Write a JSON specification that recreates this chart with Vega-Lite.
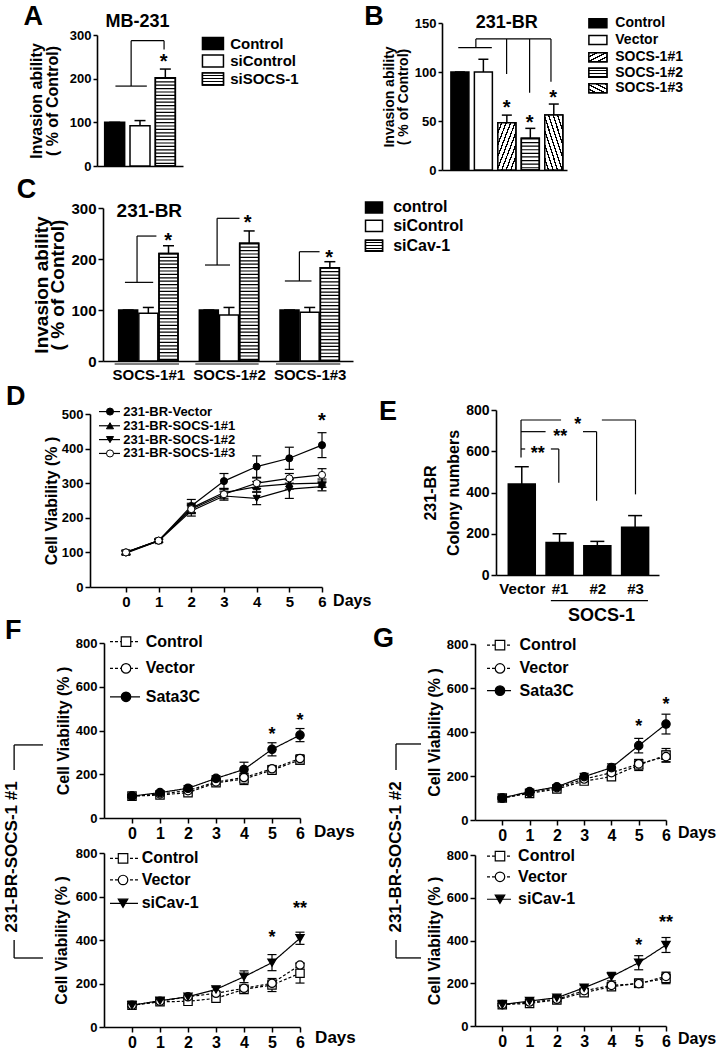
{
"$schema": "https://vega.github.io/schema/vega-lite/v6.json",
"width": 718, "height": 1050,
"autosize": {"type": "none"},
"padding": 0,
"background": "white",
"config": {
 "font": "Liberation Sans",
 "view": {"stroke": null},
 "mark": {"color": "black"},
 "point": {"opacity": 1},
 "tick": {"opacity": 1},
 "text": {"font": "Liberation Sans", "fontWeight": "bold", "color": "black"},
 "axis": {"grid": false, "domainColor": "black", "domainWidth": 1.6, "tickColor": "black", "tickWidth": 1.5, "tickSize": 5,
  "labelFont": "Liberation Sans", "labelFontWeight": "bold", "labelColor": "black", "labelFontSize": 14, "labelPadding": 2,
  "labelFlush": false, "labelOverlap": false,
  "titleFont": "Liberation Sans", "titleFontWeight": "bold", "titleColor": "black", "titleFontSize": 16}
},
"resolve": {"scale": {"x": "independent", "y": "independent", "fill": "independent", "shape": "independent", "strokeDash": "independent"}},
"datasets": {
 "a": [{"g":"Control","pos":1,"v":100,"hi":100},{"g":"siControl","pos":2,"v":92,"hi":104},{"g":"siSOCS-1","pos":3,"v":202,"hi":222}],
 "aleg": [{"label":"Control","ly":280.5},{"label":"siControl","ly":240.4},{"label":"siSOCS-1","ly":199.2}],
 "b": [{"g":"Control","pos":1,"v":100,"hi":100},{"g":"Vector","pos":2,"v":100,"hi":113},{"g":"SOCS-1#1","pos":3,"v":48.3,"hi":56},{"g":"SOCS-1#2","pos":4,"v":32.3,"hi":42.5},{"g":"SOCS-1#3","pos":5,"v":56,"hi":67.3}],
 "bleg": [{"label":"Control","ly":149.7},{"label":"Vector","ly":132.7},{"label":"SOCS-1#1","ly":115},{"label":"SOCS-1#2","ly":99.3},{"label":"SOCS-1#3","ly":83.3}],
 "c": [{"grp":"SOCS-1#1","s":"control","pos":1,"v":100,"hi":100},{"grp":"SOCS-1#1","s":"siControl","pos":2,"v":93.5,"hi":105},{"grp":"SOCS-1#1","s":"siCav-1","pos":3,"v":211,"hi":226},
       {"grp":"SOCS-1#2","s":"control","pos":5,"v":100,"hi":100},{"grp":"SOCS-1#2","s":"siControl","pos":6,"v":90,"hi":105},{"grp":"SOCS-1#2","s":"siCav-1","pos":7,"v":231,"hi":255},
       {"grp":"SOCS-1#3","s":"control","pos":9,"v":100,"hi":100},{"grp":"SOCS-1#3","s":"siControl","pos":10,"v":95.4,"hi":105},{"grp":"SOCS-1#3","s":"siCav-1","pos":11,"v":183,"hi":194.7}],
 "cleg": [{"label":"control","ly":301},{"label":"siControl","ly":265},{"label":"siCav-1","ly":226}],
 "e": [{"g":"Vector","pos":1,"v":441,"hi":525},{"g":"#1","pos":2,"v":157,"hi":200},{"g":"#2","pos":3,"v":142,"hi":163},{"g":"#3","pos":4,"v":231,"hi":288}],
 "d": [
  {"s":"V","d":0,"v":100,"lo":93,"hi":107},{"s":"V","d":1,"v":134,"lo":129,"hi":139},{"s":"V","d":2,"v":234,"lo":215,"hi":253},{"s":"V","d":3,"v":306,"lo":284,"hi":328},{"s":"V","d":4,"v":348,"lo":317,"hi":379},{"s":"V","d":5,"v":372,"lo":340,"hi":404},{"s":"V","d":6,"v":410,"lo":374,"hi":446},
  {"s":"S1","d":0,"v":100,"lo":95,"hi":105},{"s":"S1","d":1,"v":134,"lo":130,"hi":138},{"s":"S1","d":2,"v":228,"lo":214,"hi":242},{"s":"S1","d":3,"v":273,"lo":261,"hi":285},{"s":"S1","d":4,"v":290,"lo":275,"hi":305},{"s":"S1","d":5,"v":298,"lo":283,"hi":313},{"s":"S1","d":6,"v":300,"lo":288,"hi":312},
  {"s":"S2","d":0,"v":98,"lo":93,"hi":103},{"s":"S2","d":1,"v":133,"lo":129,"hi":137},{"s":"S2","d":2,"v":220,"lo":205,"hi":235},{"s":"S2","d":3,"v":263,"lo":251,"hi":275},{"s":"S2","d":4,"v":256,"lo":238,"hi":274},{"s":"S2","d":5,"v":283,"lo":256,"hi":310},{"s":"S2","d":6,"v":290,"lo":278,"hi":302},
  {"s":"S3","d":0,"v":100,"lo":95,"hi":105},{"s":"S3","d":1,"v":134,"lo":130,"hi":138},{"s":"S3","d":2,"v":225,"lo":212,"hi":238},{"s":"S3","d":3,"v":268,"lo":255,"hi":281},{"s":"S3","d":4,"v":300,"lo":285,"hi":315},{"s":"S3","d":5,"v":314,"lo":300,"hi":328},{"s":"S3","d":6,"v":324,"lo":306,"hi":342}],
 "dleg": [{"s":"V","label":"231-BR-Vector","ly":507},{"s":"S1","label":"231-BR-SOCS-1#1","ly":466},{"s":"S2","label":"231-BR-SOCS-1#2","ly":426},{"s":"S3","label":"231-BR-SOCS-1#3","ly":386}],
 "ft": [
  {"s":"Control","d":0,"v":100,"lo":95,"hi":105},{"s":"Control","d":1,"v":105,"lo":100,"hi":110},{"s":"Control","d":2,"v":116,"lo":104,"hi":128},{"s":"Control","d":3,"v":161,"lo":151,"hi":171},{"s":"Control","d":4,"v":178,"lo":153,"hi":203},{"s":"Control","d":5,"v":219,"lo":204,"hi":234},{"s":"Control","d":6,"v":265,"lo":245,"hi":285},
  {"s":"Vector","d":0,"v":100,"lo":95,"hi":105},{"s":"Vector","d":1,"v":110,"lo":104,"hi":116},{"s":"Vector","d":2,"v":125,"lo":113,"hi":137},{"s":"Vector","d":3,"v":165,"lo":155,"hi":175},{"s":"Vector","d":4,"v":185,"lo":165,"hi":205},{"s":"Vector","d":5,"v":225,"lo":210,"hi":240},{"s":"Vector","d":6,"v":272,"lo":255,"hi":289},
  {"s":"Sata3C","d":0,"v":100,"lo":95,"hi":105},{"s":"Sata3C","d":1,"v":116,"lo":110,"hi":122},{"s":"Sata3C","d":2,"v":136,"lo":124,"hi":148},{"s":"Sata3C","d":3,"v":181,"lo":169,"hi":193},{"s":"Sata3C","d":4,"v":222,"lo":189,"hi":255},{"s":"Sata3C","d":5,"v":314,"lo":284,"hi":344},{"s":"Sata3C","d":6,"v":379,"lo":349,"hi":409}],
 "ftl": [{"s":"Control","ly":806},{"s":"Vector","ly":684},{"s":"Sata3C","ly":554}],
 "fb": [
  {"s":"Control","d":0,"v":100,"lo":95,"hi":105},{"s":"Control","d":1,"v":116,"lo":110,"hi":122},{"s":"Control","d":2,"v":118,"lo":110,"hi":126},{"s":"Control","d":3,"v":132,"lo":122,"hi":142},{"s":"Control","d":4,"v":173,"lo":163,"hi":183},{"s":"Control","d":5,"v":193,"lo":163,"hi":223},{"s":"Control","d":6,"v":247,"lo":202,"hi":292},
  {"s":"Vector","d":0,"v":100,"lo":95,"hi":105},{"s":"Vector","d":1,"v":118,"lo":112,"hi":124},{"s":"Vector","d":2,"v":139,"lo":131,"hi":147},{"s":"Vector","d":3,"v":155,"lo":145,"hi":165},{"s":"Vector","d":4,"v":178,"lo":168,"hi":188},{"s":"Vector","d":5,"v":201,"lo":186,"hi":216},{"s":"Vector","d":6,"v":285,"lo":275,"hi":295},
  {"s":"siCav-1","d":0,"v":100,"lo":92,"hi":108},{"s":"siCav-1","d":1,"v":121,"lo":114,"hi":128},{"s":"siCav-1","d":2,"v":139,"lo":131,"hi":147},{"s":"siCav-1","d":3,"v":173,"lo":163,"hi":183},{"s":"siCav-1","d":4,"v":231,"lo":204,"hi":258},{"s":"siCav-1","d":5,"v":296,"lo":259,"hi":333},{"s":"siCav-1","d":6,"v":408,"lo":380,"hi":436}],
 "fbl": [{"s":"Control","ly":775.6},{"s":"Vector","ly":676},{"s":"siCav-1","ly":568.7}],
 "gt": [
  {"s":"Control","d":0,"v":100,"lo":95,"hi":105},{"s":"Control","d":1,"v":121,"lo":113,"hi":129},{"s":"Control","d":2,"v":141,"lo":133,"hi":149},{"s":"Control","d":3,"v":177,"lo":165,"hi":189},{"s":"Control","d":4,"v":197,"lo":187,"hi":207},{"s":"Control","d":5,"v":250,"lo":225,"hi":275},{"s":"Control","d":6,"v":295,"lo":265,"hi":325},
  {"s":"Vector","d":0,"v":100,"lo":95,"hi":105},{"s":"Vector","d":1,"v":125,"lo":118,"hi":132},{"s":"Vector","d":2,"v":147,"lo":139,"hi":155},{"s":"Vector","d":3,"v":186,"lo":174,"hi":198},{"s":"Vector","d":4,"v":215,"lo":203,"hi":227},{"s":"Vector","d":5,"v":255,"lo":235,"hi":275},{"s":"Vector","d":6,"v":288,"lo":263,"hi":313},
  {"s":"Sata3C","d":0,"v":100,"lo":95,"hi":105},{"s":"Sata3C","d":1,"v":129,"lo":121,"hi":137},{"s":"Sata3C","d":2,"v":151,"lo":143,"hi":159},{"s":"Sata3C","d":3,"v":197,"lo":182,"hi":212},{"s":"Sata3C","d":4,"v":238,"lo":221,"hi":255},{"s":"Sata3C","d":5,"v":338,"lo":305,"hi":371},{"s":"Sata3C","d":6,"v":436,"lo":391,"hi":481}],
 "gtl": [{"s":"Control","ly":795},{"s":"Vector","ly":689},{"s":"Sata3C","ly":588}],
 "gb": [
  {"s":"Control","d":0,"v":100,"lo":95,"hi":105},{"s":"Control","d":1,"v":106,"lo":99,"hi":113},{"s":"Control","d":2,"v":122,"lo":114,"hi":130},{"s":"Control","d":3,"v":156,"lo":146,"hi":166},{"s":"Control","d":4,"v":184,"lo":170,"hi":198},{"s":"Control","d":5,"v":200,"lo":180,"hi":220},{"s":"Control","d":6,"v":223,"lo":198,"hi":248},
  {"s":"Vector","d":0,"v":100,"lo":95,"hi":105},{"s":"Vector","d":1,"v":112,"lo":106,"hi":118},{"s":"Vector","d":2,"v":125,"lo":117,"hi":133},{"s":"Vector","d":3,"v":165,"lo":155,"hi":175},{"s":"Vector","d":4,"v":190,"lo":180,"hi":200},{"s":"Vector","d":5,"v":198,"lo":188,"hi":208},{"s":"Vector","d":6,"v":232,"lo":212,"hi":252},
  {"s":"siCav-1","d":0,"v":100,"lo":93,"hi":107},{"s":"siCav-1","d":1,"v":117,"lo":110,"hi":124},{"s":"siCav-1","d":2,"v":132,"lo":124,"hi":140},{"s":"siCav-1","d":3,"v":179,"lo":169,"hi":189},{"s":"siCav-1","d":4,"v":231,"lo":211,"hi":251},{"s":"siCav-1","d":5,"v":296,"lo":263,"hi":329},{"s":"siCav-1","d":6,"v":379,"lo":344,"hi":414}],
 "gbl": [{"s":"Control","ly":795},{"s":"Vector","ly":698},{"s":"siCav-1","ly":593}]
},
"layer": [
{"layer": [
 {"data": {"name": "a"}, "mark": {"type": "bar", "width": 20, "stroke": "black", "strokeWidth": 1.5},
  "encoding": {
   "x": {"field": "pos", "type": "quantitative", "scale": {"domain": [0.5, 3.5], "range": [97, 183], "zero": false, "nice": false}, "axis": {"orient": "bottom", "offset": -884, "labels": false, "ticks": false, "tickSize": 0, "title": null}},
   "y": {"field": "v", "type": "quantitative", "scale": {"domain": [0, 300], "range": [166, 35], "zero": false, "nice": false}, "axis": {"orient": "left", "offset": -97, "values": [0, 100, 200, 300], "format": "d", "labelFontSize": 13, "tickSize": 4, "title": ["Invasion ability", "( % of Control)"], "titleFontSize": 16, "titleLineHeight": 16, "titlePadding": 9}},
   "fill": {"condition": {"test": "datum.g === 'Control'", "value": "black"}, "value": "white"}}},
 {"data": {"name": "a"}, "transform": [{"filter": "datum.g === 'siSOCS-1'"}], "mark": {"type": "rule", "strokeWidth": 20, "strokeDash": [1.2, 2.2]},
  "encoding": {"x": {"field": "pos", "type": "quantitative"}, "y": {"field": "v", "type": "quantitative"}, "y2": {"datum": 0}}},
 {"data": {"name": "a"}, "transform": [{"filter": "datum.g === 'siSOCS-1'"}], "mark": {"type": "bar", "width": 20, "fillOpacity": 0, "stroke": "black", "strokeWidth": 1.5},
  "encoding": {"x": {"field": "pos", "type": "quantitative"}, "y": {"field": "v", "type": "quantitative"}}},
 {"data": {"name": "a"}, "mark": {"type": "rule", "strokeWidth": 1.5},
  "encoding": {"x": {"field": "pos", "type": "quantitative"}, "y": {"field": "v", "type": "quantitative"}, "y2": {"field": "hi"}}},
 {"data": {"name": "a"}, "mark": {"type": "tick", "orient": "horizontal", "size": 11, "thickness": 1.5},
  "encoding": {"x": {"field": "pos", "type": "quantitative"}, "y": {"field": "hi", "type": "quantitative"}}},
 {"data": {"values": [{"x":1.03,"x2":2.27,"y":183,"y2":183},{"x":1.65,"x2":1.65,"y":183,"y2":287},{"x":1.65,"x2":2.95,"y":287,"y2":287},{"x":2.95,"x2":2.95,"y":287,"y2":267}]},
  "mark": {"type": "rule", "strokeWidth": 1.2},
  "encoding": {"x": {"field": "x", "type": "quantitative"}, "x2": {"field": "x2"}, "y": {"field": "y", "type": "quantitative"}, "y2": {"field": "y2"}}},
 {"data": {"values": [{"t":"*","x":2.93,"y":250}]}, "mark": {"type": "text", "fontSize": 20, "dy": 5},
  "encoding": {"x": {"field": "x", "type": "quantitative"}, "y": {"field": "y", "type": "quantitative"}, "text": {"field": "t"}}},
 {"data": {"values": [{"t":"MB-231","x":1.9,"y":318}]}, "mark": {"type": "text", "fontSize": 18, "baseline": "alphabetic"},
  "encoding": {"x": {"field": "x", "type": "quantitative"}, "y": {"field": "y", "type": "quantitative"}, "text": {"field": "t"}}},
 {"data": {"values": [{"t":"A","x":-2.6,"y":323}]}, "mark": {"type": "text", "fontSize": 27, "align": "left", "baseline": "alphabetic"},
  "encoding": {"x": {"field": "x", "type": "quantitative"}, "y": {"field": "y", "type": "quantitative"}, "text": {"field": "t"}}},
 {"data": {"name": "aleg"}, "mark": {"type": "point", "shape": "M-1,-0.57H1V0.57H-1Z", "size": 441, "filled": true, "stroke": "black", "strokeWidth": 1.5},
  "encoding": {"x": {"datum": 4.88}, "y": {"field": "ly", "type": "quantitative"}, "fill": {"condition": {"test": "datum.label === 'Control'", "value": "black"}, "value": "white"}}},
 {"data": {"name": "aleg"}, "transform": [{"filter": "datum.label === 'siSOCS-1'"}],
  "mark": {"type": "point", "shape": "M-1,-0.57H1V0.57H-1Z", "size": 441, "filled": true, "stroke": "black", "strokeWidth": 1.5,
   "fill": {"gradient": "linear", "x1": 0, "y1": 0, "x2": 0, "y2": 1, "stops": [{"offset":0,"color":"white"},{"offset":0.17,"color":"white"},{"offset":0.17,"color":"black"},{"offset":0.25,"color":"black"},{"offset":0.25,"color":"white"},{"offset":0.42,"color":"white"},{"offset":0.42,"color":"black"},{"offset":0.5,"color":"black"},{"offset":0.5,"color":"white"},{"offset":0.67,"color":"white"},{"offset":0.67,"color":"black"},{"offset":0.75,"color":"black"},{"offset":0.75,"color":"white"},{"offset":0.92,"color":"white"},{"offset":0.92,"color":"black"},{"offset":1,"color":"black"}]}},
  "encoding": {"x": {"datum": 4.88}, "y": {"field": "ly", "type": "quantitative"}}},
 {"data": {"name": "aleg"}, "mark": {"type": "text", "align": "left", "baseline": "middle", "fontSize": 15},
  "encoding": {"x": {"datum": 5.56}, "y": {"field": "ly", "type": "quantitative"}, "text": {"field": "label"}}}
]},
{"layer": [
 {"data": {"name": "b"}, "mark": {"type": "bar", "width": 18, "stroke": "black", "strokeWidth": 1.5},
  "encoding": {
   "x": {"field": "pos", "type": "quantitative", "scale": {"domain": [0.45, 5.35], "range": [442, 567], "zero": false, "nice": false}, "axis": {"orient": "bottom", "offset": -880, "labels": false, "ticks": false, "tickSize": 0, "title": null}},
   "y": {"field": "v", "type": "quantitative", "scale": {"domain": [0, 150], "range": [170, 23], "zero": false, "nice": false}, "axis": {"orient": "left", "offset": -442, "values": [0, 50, 100, 150], "format": "d", "labelFontSize": 13, "tickSize": 4, "title": ["Invasion ability", "( % of Control)"], "titleFontSize": 14, "titleLineHeight": 14, "titlePadding": 4}},
   "fill": {"condition": {"test": "datum.g === 'Control'", "value": "black"}, "value": "white"}}},
 {"data": {"name": "b"}, "transform": [{"filter": "datum.g === 'SOCS-1#1'"}],
  "mark": {"type": "bar", "width": 18, "stroke": "black", "strokeWidth": 1.5,
   "fill": {"gradient": "linear", "x1": 0, "y1": 0, "x2": 1, "y2": 1, "stops": [{"offset":0,"color":"white"},{"offset":0.0875,"color":"white"},{"offset":0.0875,"color":"black"},{"offset":0.125,"color":"black"},{"offset":0.125,"color":"white"},{"offset":0.2125,"color":"white"},{"offset":0.2125,"color":"black"},{"offset":0.25,"color":"black"},{"offset":0.25,"color":"white"},{"offset":0.3375,"color":"white"},{"offset":0.3375,"color":"black"},{"offset":0.375,"color":"black"},{"offset":0.375,"color":"white"},{"offset":0.4625,"color":"white"},{"offset":0.4625,"color":"black"},{"offset":0.5,"color":"black"},{"offset":0.5,"color":"white"},{"offset":0.5875,"color":"white"},{"offset":0.5875,"color":"black"},{"offset":0.625,"color":"black"},{"offset":0.625,"color":"white"},{"offset":0.7125,"color":"white"},{"offset":0.7125,"color":"black"},{"offset":0.75,"color":"black"},{"offset":0.75,"color":"white"},{"offset":0.8375,"color":"white"},{"offset":0.8375,"color":"black"},{"offset":0.875,"color":"black"},{"offset":0.875,"color":"white"},{"offset":0.9625,"color":"white"},{"offset":0.9625,"color":"black"},{"offset":1,"color":"black"}]}},
  "encoding": {"x": {"field": "pos", "type": "quantitative"}, "y": {"field": "v", "type": "quantitative"}}},
 {"data": {"name": "b"}, "transform": [{"filter": "datum.g === 'SOCS-1#3'"}],
  "mark": {"type": "bar", "width": 18, "stroke": "black", "strokeWidth": 1.5,
   "fill": {"gradient": "linear", "x1": 0, "y1": 1, "x2": 1, "y2": 0, "stops": [{"offset":0,"color":"white"},{"offset":0.0875,"color":"white"},{"offset":0.0875,"color":"black"},{"offset":0.125,"color":"black"},{"offset":0.125,"color":"white"},{"offset":0.2125,"color":"white"},{"offset":0.2125,"color":"black"},{"offset":0.25,"color":"black"},{"offset":0.25,"color":"white"},{"offset":0.3375,"color":"white"},{"offset":0.3375,"color":"black"},{"offset":0.375,"color":"black"},{"offset":0.375,"color":"white"},{"offset":0.4625,"color":"white"},{"offset":0.4625,"color":"black"},{"offset":0.5,"color":"black"},{"offset":0.5,"color":"white"},{"offset":0.5875,"color":"white"},{"offset":0.5875,"color":"black"},{"offset":0.625,"color":"black"},{"offset":0.625,"color":"white"},{"offset":0.7125,"color":"white"},{"offset":0.7125,"color":"black"},{"offset":0.75,"color":"black"},{"offset":0.75,"color":"white"},{"offset":0.8375,"color":"white"},{"offset":0.8375,"color":"black"},{"offset":0.875,"color":"black"},{"offset":0.875,"color":"white"},{"offset":0.9625,"color":"white"},{"offset":0.9625,"color":"black"},{"offset":1,"color":"black"}]}},
  "encoding": {"x": {"field": "pos", "type": "quantitative"}, "y": {"field": "v", "type": "quantitative"}}},
 {"data": {"name": "b"}, "transform": [{"filter": "datum.g === 'SOCS-1#2'"}], "mark": {"type": "rule", "strokeWidth": 18, "strokeDash": [1.2, 2.4]},
  "encoding": {"x": {"field": "pos", "type": "quantitative"}, "y": {"field": "v", "type": "quantitative"}, "y2": {"datum": 0}}},
 {"data": {"name": "b"}, "transform": [{"filter": "datum.g === 'SOCS-1#2'"}], "mark": {"type": "bar", "width": 18, "fillOpacity": 0, "stroke": "black", "strokeWidth": 1.5},
  "encoding": {"x": {"field": "pos", "type": "quantitative"}, "y": {"field": "v", "type": "quantitative"}}},
 {"data": {"name": "b"}, "mark": {"type": "rule", "strokeWidth": 1.5},
  "encoding": {"x": {"field": "pos", "type": "quantitative"}, "y": {"field": "v", "type": "quantitative"}, "y2": {"field": "hi"}}},
 {"data": {"name": "b"}, "mark": {"type": "tick", "orient": "horizontal", "size": 10, "thickness": 1.5},
  "encoding": {"x": {"field": "pos", "type": "quantitative"}, "y": {"field": "hi", "type": "quantitative"}}},
 {"data": {"values": [{"x":0.93,"x2":2.36,"y":124.8,"y2":124.8},{"x":1.68,"x2":1.68,"y":124.8,"y2":133.7},{"x":1.68,"x2":4.88,"y":133.7,"y2":133.7},{"x":2.99,"x2":2.99,"y":133.7,"y2":98},{"x":3.97,"x2":3.97,"y":133.7,"y2":78.9},{"x":4.88,"x2":4.88,"y":133.7,"y2":90.1}]},
  "mark": {"type": "rule", "strokeWidth": 1.2},
  "encoding": {"x": {"field": "x", "type": "quantitative"}, "x2": {"field": "x2"}, "y": {"field": "y", "type": "quantitative"}, "y2": {"field": "y2"}}},
 {"data": {"values": [{"t":"*","x":2.99,"y":68},{"t":"*","x":3.97,"y":52.7},{"t":"*","x":4.97,"y":78.3}]}, "mark": {"type": "text", "fontSize": 20, "dy": 5},
  "encoding": {"x": {"field": "x", "type": "quantitative"}, "y": {"field": "y", "type": "quantitative"}, "text": {"field": "t"}}},
 {"data": {"values": [{"t":"231-BR","x":3.0,"y":145}]}, "mark": {"type": "text", "fontSize": 18, "baseline": "alphabetic"},
  "encoding": {"x": {"field": "x", "type": "quantitative"}, "y": {"field": "y", "type": "quantitative"}, "text": {"field": "t"}}},
 {"data": {"values": [{"t":"B","x":-3.08,"y":148}]}, "mark": {"type": "text", "fontSize": 27, "align": "left", "baseline": "alphabetic"},
  "encoding": {"x": {"field": "x", "type": "quantitative"}, "y": {"field": "y", "type": "quantitative"}, "text": {"field": "t"}}},
 {"data": {"name": "bleg"}, "mark": {"type": "point", "shape": "M-1,-0.5H1V0.5H-1Z", "size": 324, "filled": true, "stroke": "black", "strokeWidth": 1.5},
  "encoding": {"x": {"datum": 6.88}, "y": {"field": "ly", "type": "quantitative"}, "fill": {"condition": {"test": "datum.label === 'Control'", "value": "black"}, "value": "white"}}},
 {"data": {"name": "bleg"}, "transform": [{"filter": "datum.label === 'SOCS-1#1'"}],
  "mark": {"type": "point", "shape": "M-1,-0.5H1V0.5H-1Z", "size": 324, "filled": true, "stroke": "black", "strokeWidth": 1.5,
   "fill": {"gradient": "linear", "x1": 0, "y1": 0, "x2": 1, "y2": 1, "stops": [{"offset":0,"color":"white"},{"offset":0.175,"color":"white"},{"offset":0.175,"color":"black"},{"offset":0.25,"color":"black"},{"offset":0.25,"color":"white"},{"offset":0.425,"color":"white"},{"offset":0.425,"color":"black"},{"offset":0.5,"color":"black"},{"offset":0.5,"color":"white"},{"offset":0.675,"color":"white"},{"offset":0.675,"color":"black"},{"offset":0.75,"color":"black"},{"offset":0.75,"color":"white"},{"offset":0.925,"color":"white"},{"offset":0.925,"color":"black"},{"offset":1,"color":"black"}]}},
  "encoding": {"x": {"datum": 6.88}, "y": {"field": "ly", "type": "quantitative"}}},
 {"data": {"name": "bleg"}, "transform": [{"filter": "datum.label === 'SOCS-1#2'"}],
  "mark": {"type": "point", "shape": "M-1,-0.5H1V0.5H-1Z", "size": 324, "filled": true, "stroke": "black", "strokeWidth": 1.5,
   "fill": {"gradient": "linear", "x1": 0, "y1": 0, "x2": 0, "y2": 1, "stops": [{"offset":0,"color":"white"},{"offset":0.22,"color":"white"},{"offset":0.22,"color":"black"},{"offset":0.33,"color":"black"},{"offset":0.33,"color":"white"},{"offset":0.55,"color":"white"},{"offset":0.55,"color":"black"},{"offset":0.66,"color":"black"},{"offset":0.66,"color":"white"},{"offset":0.89,"color":"white"},{"offset":0.89,"color":"black"},{"offset":1,"color":"black"}]}},
  "encoding": {"x": {"datum": 6.88}, "y": {"field": "ly", "type": "quantitative"}}},
 {"data": {"name": "bleg"}, "transform": [{"filter": "datum.label === 'SOCS-1#3'"}],
  "mark": {"type": "point", "shape": "M-1,-0.5H1V0.5H-1Z", "size": 324, "filled": true, "stroke": "black", "strokeWidth": 1.5,
   "fill": {"gradient": "linear", "x1": 0, "y1": 1, "x2": 1, "y2": 0, "stops": [{"offset":0,"color":"white"},{"offset":0.175,"color":"white"},{"offset":0.175,"color":"black"},{"offset":0.25,"color":"black"},{"offset":0.25,"color":"white"},{"offset":0.425,"color":"white"},{"offset":0.425,"color":"black"},{"offset":0.5,"color":"black"},{"offset":0.5,"color":"white"},{"offset":0.675,"color":"white"},{"offset":0.675,"color":"black"},{"offset":0.75,"color":"black"},{"offset":0.75,"color":"white"},{"offset":0.925,"color":"white"},{"offset":0.925,"color":"black"},{"offset":1,"color":"black"}]}},
  "encoding": {"x": {"datum": 6.88}, "y": {"field": "ly", "type": "quantitative"}}},
 {"data": {"name": "bleg"}, "mark": {"type": "text", "align": "left", "baseline": "middle", "fontSize": 14},
  "encoding": {"x": {"datum": 7.62}, "y": {"field": "ly", "type": "quantitative"}, "text": {"field": "label"}}}
]},
{"layer": [
 {"data": {"name": "c"}, "mark": {"type": "bar", "width": 19, "stroke": "black", "strokeWidth": 1.5},
  "encoding": {
   "x": {"field": "pos", "type": "quantitative", "scale": {"domain": [0, 11.9], "range": [103, 353], "zero": false, "nice": false}, "axis": {"orient": "bottom", "offset": -689, "values": [2, 6, 10], "labelExpr": "'SOCS-1#' + ((datum.value + 2) / 4)", "ticks": false, "tickSize": 0, "labelPadding": 6, "labelFontSize": 15, "title": null}},
   "y": {"field": "v", "type": "quantitative", "scale": {"domain": [0, 300], "range": [361, 208], "zero": false, "nice": false}, "axis": {"orient": "left", "offset": -103, "values": [0, 100, 200, 300], "format": "d", "labelFontSize": 15, "title": ["Invasion ability", "( % of Control)"], "titleFontSize": 19, "titleLineHeight": 16, "titlePadding": 3}},
   "fill": {"condition": {"test": "datum.s === 'control'", "value": "black"}, "value": "white"}}},
 {"data": {"name": "c"}, "transform": [{"filter": "datum.s === 'siCav-1'"}], "mark": {"type": "rule", "strokeWidth": 19, "strokeDash": [1.2, 2.2]},
  "encoding": {"x": {"field": "pos", "type": "quantitative"}, "y": {"field": "v", "type": "quantitative"}, "y2": {"datum": 0}}},
 {"data": {"name": "c"}, "transform": [{"filter": "datum.s === 'siCav-1'"}], "mark": {"type": "bar", "width": 19, "fillOpacity": 0, "stroke": "black", "strokeWidth": 1.5},
  "encoding": {"x": {"field": "pos", "type": "quantitative"}, "y": {"field": "v", "type": "quantitative"}}},
 {"data": {"name": "c"}, "mark": {"type": "rule", "strokeWidth": 1.5},
  "encoding": {"x": {"field": "pos", "type": "quantitative"}, "y": {"field": "v", "type": "quantitative"}, "y2": {"field": "hi"}}},
 {"data": {"name": "c"}, "mark": {"type": "tick", "orient": "horizontal", "size": 11, "thickness": 1.5},
  "encoding": {"x": {"field": "pos", "type": "quantitative"}, "y": {"field": "hi", "type": "quantitative"}}},
 {"data": {"values": [{"x":0.84,"x2":2.24,"y":154.2,"y2":154.2},{"x":1.44,"x2":1.44,"y":154.2,"y2":245},{"x":1.44,"x2":2.4,"y":245,"y2":245},
   {"x":4.81,"x2":6.05,"y":188.2,"y2":188.2},{"x":5.41,"x2":5.41,"y":188.2,"y2":279.8},{"x":5.41,"x2":6.52,"y":279.8,"y2":279.8},
   {"x":8.77,"x2":10.09,"y":156.9,"y2":156.9},{"x":9.49,"x2":9.49,"y":156.9,"y2":214.3},{"x":9.49,"x2":10.49,"y":214.3,"y2":214.3},
   {"x":0.33,"x2":3.52,"y":-5.9,"y2":-5.9},{"x":4.33,"x2":7.47,"y":-5.9,"y2":-5.9},{"x":8.33,"x2":11.52,"y":-5.9,"y2":-5.9}]},
  "mark": {"type": "rule", "strokeWidth": 1.2},
  "encoding": {"x": {"field": "x", "type": "quantitative"}, "x2": {"field": "x2"}, "y": {"field": "y", "type": "quantitative"}, "y2": {"field": "y2"}}},
 {"data": {"values": [{"t":"*","x":2.98,"y":245},{"t":"*","x":6.92,"y":280},{"t":"*","x":10.96,"y":211}]}, "mark": {"type": "text", "fontSize": 20, "dy": 5},
  "encoding": {"x": {"field": "x", "type": "quantitative"}, "y": {"field": "y", "type": "quantitative"}, "text": {"field": "t"}}},
 {"data": {"values": [{"t":"231-BR","x":2.05,"y":282}]}, "mark": {"type": "text", "fontSize": 19, "baseline": "alphabetic"},
  "encoding": {"x": {"field": "x", "type": "quantitative"}, "y": {"field": "y", "type": "quantitative"}, "text": {"field": "t"}}},
 {"data": {"values": [{"t":"C","x":-4.52,"y":320}]}, "mark": {"type": "text", "fontSize": 27, "align": "left", "baseline": "alphabetic"},
  "encoding": {"x": {"field": "x", "type": "quantitative"}, "y": {"field": "y", "type": "quantitative"}, "text": {"field": "t"}}},
 {"data": {"name": "cleg"}, "mark": {"type": "point", "shape": "M-1,-0.65H1V0.65H-1Z", "size": 289, "filled": true, "stroke": "black", "strokeWidth": 1.5},
  "encoding": {"x": {"datum": 13.19}, "y": {"field": "ly", "type": "quantitative"}, "fill": {"condition": {"test": "datum.label === 'control'", "value": "black"}, "value": "white"}}},
 {"data": {"name": "cleg"}, "transform": [{"filter": "datum.label === 'siCav-1'"}],
  "mark": {"type": "point", "shape": "M-1,-0.65H1V0.65H-1Z", "size": 289, "filled": true, "stroke": "black", "strokeWidth": 1.5,
   "fill": {"gradient": "linear", "x1": 0, "y1": 0, "x2": 0, "y2": 1, "stops": [{"offset":0,"color":"white"},{"offset":0.17,"color":"white"},{"offset":0.17,"color":"black"},{"offset":0.25,"color":"black"},{"offset":0.25,"color":"white"},{"offset":0.42,"color":"white"},{"offset":0.42,"color":"black"},{"offset":0.5,"color":"black"},{"offset":0.5,"color":"white"},{"offset":0.67,"color":"white"},{"offset":0.67,"color":"black"},{"offset":0.75,"color":"black"},{"offset":0.75,"color":"white"},{"offset":0.92,"color":"white"},{"offset":0.92,"color":"black"},{"offset":1,"color":"black"}]}},
  "encoding": {"x": {"datum": 13.19}, "y": {"field": "ly", "type": "quantitative"}}},
 {"data": {"name": "cleg"}, "mark": {"type": "text", "align": "left", "baseline": "middle", "fontSize": 16},
  "encoding": {"x": {"datum": 14.14}, "y": {"field": "ly", "type": "quantitative"}, "text": {"field": "label"}}}
]},
{"layer": [
 {"data": {"name": "d"}, "mark": {"type": "line", "strokeWidth": 1.2},
  "encoding": {
   "x": {"field": "d", "type": "quantitative", "scale": {"domain": [-1.1, 6], "range": [90, 322], "zero": false, "nice": false}, "axis": {"orient": "bottom", "offset": -463, "values": [0, 1, 2, 3, 4, 5, 6], "format": "d", "labelFontSize": 15, "title": null}},
   "y": {"field": "v", "type": "quantitative", "scale": {"domain": [0, 500], "range": [587, 414], "zero": false, "nice": false}, "axis": {"orient": "left", "offset": -90, "values": [0, 100, 200, 300, 400, 500], "format": "d", "labelFontSize": 13, "title": "Cell Viability (% )", "titleFontSize": 16, "titlePadding": 2}},
   "detail": {"field": "s"}}},
 {"data": {"name": "d"}, "mark": {"type": "rule", "strokeWidth": 1.2},
  "encoding": {"x": {"field": "d", "type": "quantitative"}, "y": {"field": "lo", "type": "quantitative"}, "y2": {"field": "hi"}}},
 {"data": {"name": "d"}, "mark": {"type": "tick", "orient": "horizontal", "size": 9, "thickness": 1.2},
  "encoding": {"x": {"field": "d", "type": "quantitative"}, "y": {"field": "lo", "type": "quantitative"}}},
 {"data": {"name": "d"}, "mark": {"type": "tick", "orient": "horizontal", "size": 9, "thickness": 1.2},
  "encoding": {"x": {"field": "d", "type": "quantitative"}, "y": {"field": "hi", "type": "quantitative"}}},
 {"data": {"name": "d"}, "mark": {"type": "point", "size": 50, "filled": true, "stroke": "black", "strokeWidth": 1},
  "encoding": {"x": {"field": "d", "type": "quantitative"}, "y": {"field": "v", "type": "quantitative"},
   "shape": {"field": "s", "type": "nominal", "scale": {"domain": ["V", "S1", "S2", "S3"], "range": ["circle", "triangle-up", "triangle-down", "circle"]}, "legend": null},
   "fill": {"field": "s", "type": "nominal", "scale": {"domain": ["V", "S1", "S2", "S3"], "range": ["black", "black", "black", "white"]}, "legend": null}}},
 {"data": {"name": "dleg"}, "mark": {"type": "rule", "strokeWidth": 1.2},
  "encoding": {"x": {"datum": -0.825}, "x2": {"datum": -0.182}, "y": {"field": "ly", "type": "quantitative"}}},
 {"data": {"name": "dleg"}, "mark": {"type": "point", "size": 50, "filled": true, "stroke": "black", "strokeWidth": 1},
  "encoding": {"x": {"datum": -0.488}, "y": {"field": "ly", "type": "quantitative"}, "shape": {"field": "s", "type": "nominal", "legend": null}, "fill": {"field": "s", "type": "nominal", "legend": null}}},
 {"data": {"name": "dleg"}, "mark": {"type": "text", "align": "left", "baseline": "middle", "fontSize": 13},
  "encoding": {"x": {"datum": -0.081}, "y": {"field": "ly", "type": "quantitative"}, "text": {"field": "label"}}},
 {"data": {"values": [{"t":"*","x":6,"y":494}]}, "mark": {"type": "text", "fontSize": 20, "dy": 5},
  "encoding": {"x": {"field": "x", "type": "quantitative"}, "y": {"field": "y", "type": "quantitative"}, "text": {"field": "t"}}},
 {"data": {"values": [{"t":"Days","x":6.34,"y":-40}]}, "mark": {"type": "text", "fontSize": 16, "align": "left", "baseline": "middle"},
  "encoding": {"x": {"field": "x", "type": "quantitative"}, "y": {"field": "y", "type": "quantitative"}, "text": {"field": "t"}}},
 {"data": {"values": [{"t":"D","x":-3.67,"y":526}]}, "mark": {"type": "text", "fontSize": 27, "align": "left", "baseline": "alphabetic"},
  "encoding": {"x": {"field": "x", "type": "quantitative"}, "y": {"field": "y", "type": "quantitative"}, "text": {"field": "t"}}}
]},
{"layer": [
 {"data": {"name": "e"}, "mark": {"type": "bar", "width": 27, "stroke": "black", "strokeWidth": 1.5, "fill": "black"},
  "encoding": {
   "x": {"field": "pos", "type": "quantitative", "scale": {"domain": [0.45, 4.5], "range": [496, 659], "zero": false, "nice": false}, "axis": {"orient": "bottom", "offset": -475, "values": [1, 2, 3, 4], "labelExpr": "datum.value == 1 ? 'Vector' : '#' + (datum.value - 1)", "ticks": false, "tickSize": 0, "labelPadding": 6, "labelFontSize": 15, "title": null}},
   "y": {"field": "v", "type": "quantitative", "scale": {"domain": [0, 800], "range": [575, 410], "zero": false, "nice": false}, "axis": {"orient": "left", "offset": -496, "values": [0, 200, 400, 600, 800], "format": "d", "labelFontSize": 14, "title": ["231-BR", "Colony numbers"], "titleFontSize": 16, "titleLineHeight": 23, "titlePadding": 4}}}},
 {"data": {"name": "e"}, "mark": {"type": "rule", "strokeWidth": 1.5},
  "encoding": {"x": {"field": "pos", "type": "quantitative"}, "y": {"field": "v", "type": "quantitative"}, "y2": {"field": "hi"}}},
 {"data": {"name": "e"}, "mark": {"type": "tick", "orient": "horizontal", "size": 14, "thickness": 1.5},
  "encoding": {"x": {"field": "pos", "type": "quantitative"}, "y": {"field": "hi", "type": "quantitative"}}},
 {"data": {"values": [{"x":0.98,"x2":0.98,"y":570,"y2":751.5},
   {"x":0.98,"x2":2.04,"y":751.5,"y2":751.5},{"x":3.12,"x2":4.01,"y":751.5,"y2":751.5},{"x":4.01,"x2":4.01,"y":751.5,"y2":391},
   {"x":0.98,"x2":1.63,"y":695,"y2":695},{"x":2.62,"x2":2.98,"y":695,"y2":695},{"x":2.98,"x2":2.98,"y":695,"y2":360},
   {"x":0.98,"x2":1.09,"y":611,"y2":611},{"x":1.77,"x2":1.98,"y":611,"y2":611},{"x":1.98,"x2":1.98,"y":611,"y2":447},
   {"x":1.77,"x2":4.34,"y":-124.6,"y2":-124.6}]},
  "mark": {"type": "rule", "strokeWidth": 1.2},
  "encoding": {"x": {"field": "x", "type": "quantitative"}, "x2": {"field": "x2"}, "y": {"field": "y", "type": "quantitative"}, "y2": {"field": "y2"}}},
 {"data": {"values": [{"t":"*","x":2.48,"y":751.5},{"t":"**","x":2.02,"y":695},{"t":"**","x":1.42,"y":611}]}, "mark": {"type": "text", "fontSize": 18, "dy": 5},
  "encoding": {"x": {"field": "x", "type": "quantitative"}, "y": {"field": "y", "type": "quantitative"}, "text": {"field": "t"}}},
 {"data": {"values": [{"t":"SOCS-1","x":3.11,"y":-223}]}, "mark": {"type": "text", "fontSize": 18, "baseline": "alphabetic"},
  "encoding": {"x": {"field": "x", "type": "quantitative"}, "y": {"field": "y", "type": "quantitative"}, "text": {"field": "t"}}},
 {"data": {"values": [{"t":"E","x":-2.78,"y":751.5}]}, "mark": {"type": "text", "fontSize": 27, "align": "left", "baseline": "alphabetic"},
  "encoding": {"x": {"field": "x", "type": "quantitative"}, "y": {"field": "y", "type": "quantitative"}, "text": {"field": "t"}}}
]},
{"layer": [
 {"data": {"name": "ft"}, "mark": {"type": "line", "strokeWidth": 1.2},
  "encoding": {
   "x": {"field": "d", "type": "quantitative", "scale": {"domain": [-1, 6], "range": [104, 300], "zero": false, "nice": false}, "axis": {"orient": "bottom", "offset": -232, "values": [0, 1, 2, 3, 4, 5, 6], "format": "d", "labelFontSize": 16, "title": null}},
   "y": {"field": "v", "type": "quantitative", "scale": {"domain": [0, 800], "range": [818, 643], "zero": false, "nice": false}, "axis": {"orient": "left", "offset": -104, "values": [0, 200, 400, 600, 800], "format": "d", "labelFontSize": 13, "title": "Cell Viability (% )", "titleFontSize": 16, "titlePadding": 4}},
   "strokeDash": {"field": "s", "type": "nominal", "scale": {"domain": ["Control", "Vector", "Sata3C"], "range": [[3, 2], [3, 2], [1, 0]]}, "legend": null}}},
 {"data": {"name": "ft"}, "mark": {"type": "rule", "strokeWidth": 1.2},
  "encoding": {"x": {"field": "d", "type": "quantitative"}, "y": {"field": "lo", "type": "quantitative"}, "y2": {"field": "hi"}}},
 {"data": {"name": "ft"}, "mark": {"type": "tick", "orient": "horizontal", "size": 9, "thickness": 1.2},
  "encoding": {"x": {"field": "d", "type": "quantitative"}, "y": {"field": "lo", "type": "quantitative"}}},
 {"data": {"name": "ft"}, "mark": {"type": "tick", "orient": "horizontal", "size": 9, "thickness": 1.2},
  "encoding": {"x": {"field": "d", "type": "quantitative"}, "y": {"field": "hi", "type": "quantitative"}}},
 {"data": {"name": "ft"}, "mark": {"type": "point", "size": 70, "filled": true, "stroke": "black", "strokeWidth": 1.2},
  "encoding": {"x": {"field": "d", "type": "quantitative"}, "y": {"field": "v", "type": "quantitative"},
   "shape": {"field": "s", "type": "nominal", "scale": {"domain": ["Control", "Vector", "Sata3C"], "range": ["square", "circle", "circle"]}, "legend": null},
   "fill": {"field": "s", "type": "nominal", "scale": {"domain": ["Control", "Vector", "Sata3C"], "range": ["white", "white", "black"]}, "legend": null}}},
 {"data": {"name": "ftl"}, "mark": {"type": "rule", "strokeWidth": 1.2},
  "encoding": {"x": {"datum": -0.786}, "x2": {"datum": 0.286}, "y": {"field": "ly", "type": "quantitative"}, "strokeDash": {"field": "s", "type": "nominal", "legend": null}}},
 {"data": {"name": "ftl"}, "mark": {"type": "point", "size": 90, "filled": true, "stroke": "black", "strokeWidth": 1.2},
  "encoding": {"x": {"datum": -0.214}, "y": {"field": "ly", "type": "quantitative"}, "shape": {"field": "s", "type": "nominal", "legend": null}, "fill": {"field": "s", "type": "nominal", "legend": null}}},
 {"data": {"name": "ftl"}, "mark": {"type": "text", "align": "left", "baseline": "middle", "fontSize": 16},
  "encoding": {"x": {"datum": 0.49}, "y": {"field": "ly", "type": "quantitative"}, "text": {"field": "s"}}},
 {"data": {"values": [{"t":"*","x":5,"y":402},{"t":"*","x":6,"y":466}]}, "mark": {"type": "text", "fontSize": 18, "dy": 4.5},
  "encoding": {"x": {"field": "x", "type": "quantitative"}, "y": {"field": "y", "type": "quantitative"}, "text": {"field": "t"}}},
 {"data": {"values": [{"t":"Days","x":6.5,"y":-64}]}, "mark": {"type": "text", "fontSize": 17, "align": "left", "baseline": "middle"},
  "encoding": {"x": {"field": "x", "type": "quantitative"}, "y": {"field": "y", "type": "quantitative"}, "text": {"field": "t"}}},
 {"data": {"values": [{"t":"F","x":-4.54,"y":818}]}, "mark": {"type": "text", "fontSize": 27, "align": "left", "baseline": "alphabetic"},
  "encoding": {"x": {"field": "x", "type": "quantitative"}, "y": {"field": "y", "type": "quantitative"}, "text": {"field": "t"}}},
 {"data": {"values": [{"x":-4.21,"x2":-3.18,"y":334,"y2":334},{"x":-4.21,"x2":-4.21,"y":334,"y2":219},{"x":-4.21,"x2":-4.21,"y":-558,"y2":-640},{"x":-4.21,"x2":-3.18,"y":-640,"y2":-640}]},
  "mark": {"type": "rule", "strokeWidth": 1.3},
  "encoding": {"x": {"field": "x", "type": "quantitative"}, "x2": {"field": "x2"}, "y": {"field": "y", "type": "quantitative"}, "y2": {"field": "y2"}}},
 {"data": {"values": [{"t":"231-BR-SOCS-1 #1","x":-4.27,"y":-178}]}, "mark": {"type": "text", "fontSize": 17, "angle": 270, "align": "center", "baseline": "middle"},
  "encoding": {"x": {"field": "x", "type": "quantitative"}, "y": {"field": "y", "type": "quantitative"}, "text": {"field": "t"}}}
]},
{"layer": [
 {"data": {"name": "fb"}, "mark": {"type": "line", "strokeWidth": 1.2},
  "encoding": {
   "x": {"field": "d", "type": "quantitative", "scale": {"domain": [-1, 6], "range": [104, 300], "zero": false, "nice": false}, "axis": {"orient": "bottom", "offset": -23, "values": [0, 1, 2, 3, 4, 5, 6], "format": "d", "labelFontSize": 16, "title": null}},
   "y": {"field": "v", "type": "quantitative", "scale": {"domain": [0, 800], "range": [1027, 853], "zero": false, "nice": false}, "axis": {"orient": "left", "offset": -104, "values": [0, 200, 400, 600, 800], "format": "d", "labelFontSize": 13, "title": "Cell Viability (% )", "titleFontSize": 16, "titlePadding": 6}},
   "strokeDash": {"field": "s", "type": "nominal", "scale": {"domain": ["Control", "Vector", "siCav-1"], "range": [[3, 2], [3, 2], [1, 0]]}, "legend": null}}},
 {"data": {"name": "fb"}, "mark": {"type": "rule", "strokeWidth": 1.2},
  "encoding": {"x": {"field": "d", "type": "quantitative"}, "y": {"field": "lo", "type": "quantitative"}, "y2": {"field": "hi"}}},
 {"data": {"name": "fb"}, "mark": {"type": "tick", "orient": "horizontal", "size": 9, "thickness": 1.2},
  "encoding": {"x": {"field": "d", "type": "quantitative"}, "y": {"field": "lo", "type": "quantitative"}}},
 {"data": {"name": "fb"}, "mark": {"type": "tick", "orient": "horizontal", "size": 9, "thickness": 1.2},
  "encoding": {"x": {"field": "d", "type": "quantitative"}, "y": {"field": "hi", "type": "quantitative"}}},
 {"data": {"name": "fb"}, "mark": {"type": "point", "size": 70, "filled": true, "stroke": "black", "strokeWidth": 1.2},
  "encoding": {"x": {"field": "d", "type": "quantitative"}, "y": {"field": "v", "type": "quantitative"},
   "shape": {"field": "s", "type": "nominal", "scale": {"domain": ["Control", "Vector", "siCav-1"], "range": ["square", "circle", "triangle-down"]}, "legend": null},
   "fill": {"field": "s", "type": "nominal", "scale": {"domain": ["Control", "Vector", "siCav-1"], "range": ["white", "white", "black"]}, "legend": null}}},
 {"data": {"name": "fbl"}, "mark": {"type": "rule", "strokeWidth": 1.2},
  "encoding": {"x": {"datum": -0.786}, "x2": {"datum": 0.214}, "y": {"field": "ly", "type": "quantitative"}, "strokeDash": {"field": "s", "type": "nominal", "legend": null}}},
 {"data": {"name": "fbl"}, "mark": {"type": "point", "size": 90, "filled": true, "stroke": "black", "strokeWidth": 1.2},
  "encoding": {"x": {"datum": -0.32}, "y": {"field": "ly", "type": "quantitative"}, "shape": {"field": "s", "type": "nominal", "legend": null}, "fill": {"field": "s", "type": "nominal", "legend": null}}},
 {"data": {"name": "fbl"}, "mark": {"type": "text", "align": "left", "baseline": "middle", "fontSize": 16},
  "encoding": {"x": {"datum": 0.345}, "y": {"field": "ly", "type": "quantitative"}, "text": {"field": "s"}}},
 {"data": {"values": [{"t":"*","x":5,"y":431},{"t":"**","x":6,"y":561}]}, "mark": {"type": "text", "fontSize": 18, "dy": 4.5},
  "encoding": {"x": {"field": "x", "type": "quantitative"}, "y": {"field": "y", "type": "quantitative"}, "text": {"field": "t"}}},
 {"data": {"values": [{"t":"Days","x":6.54,"y":-50.6}]}, "mark": {"type": "text", "fontSize": 17, "align": "left", "baseline": "middle"},
  "encoding": {"x": {"field": "x", "type": "quantitative"}, "y": {"field": "y", "type": "quantitative"}, "text": {"field": "t"}}}
]},
{"layer": [
 {"data": {"name": "gt"}, "mark": {"type": "line", "strokeWidth": 1.2},
  "encoding": {
   "x": {"field": "d", "type": "quantitative", "scale": {"domain": [-1, 6], "range": [475, 666], "zero": false, "nice": false}, "axis": {"orient": "bottom", "offset": -230, "values": [0, 1, 2, 3, 4, 5, 6], "format": "d", "labelFontSize": 16, "title": null}},
   "y": {"field": "v", "type": "quantitative", "scale": {"domain": [0, 800], "range": [820, 644], "zero": false, "nice": false}, "axis": {"orient": "left", "offset": -475, "values": [0, 200, 400, 600, 800], "format": "d", "labelFontSize": 13, "title": "Cell Viability (% )", "titleFontSize": 16, "titlePadding": 4}},
   "strokeDash": {"field": "s", "type": "nominal", "scale": {"domain": ["Control", "Vector", "Sata3C"], "range": [[3, 2], [3, 2], [1, 0]]}, "legend": null}}},
 {"data": {"name": "gt"}, "mark": {"type": "rule", "strokeWidth": 1.2},
  "encoding": {"x": {"field": "d", "type": "quantitative"}, "y": {"field": "lo", "type": "quantitative"}, "y2": {"field": "hi"}}},
 {"data": {"name": "gt"}, "mark": {"type": "tick", "orient": "horizontal", "size": 9, "thickness": 1.2},
  "encoding": {"x": {"field": "d", "type": "quantitative"}, "y": {"field": "lo", "type": "quantitative"}}},
 {"data": {"name": "gt"}, "mark": {"type": "tick", "orient": "horizontal", "size": 9, "thickness": 1.2},
  "encoding": {"x": {"field": "d", "type": "quantitative"}, "y": {"field": "hi", "type": "quantitative"}}},
 {"data": {"name": "gt"}, "mark": {"type": "point", "size": 70, "filled": true, "stroke": "black", "strokeWidth": 1.2},
  "encoding": {"x": {"field": "d", "type": "quantitative"}, "y": {"field": "v", "type": "quantitative"},
   "shape": {"field": "s", "type": "nominal", "scale": {"domain": ["Control", "Vector", "Sata3C"], "range": ["square", "circle", "circle"]}, "legend": null},
   "fill": {"field": "s", "type": "nominal", "scale": {"domain": ["Control", "Vector", "Sata3C"], "range": ["white", "white", "black"]}, "legend": null}}},
 {"data": {"name": "gtl"}, "mark": {"type": "rule", "strokeWidth": 1.2},
  "encoding": {"x": {"datum": -0.56}, "x2": {"datum": 0.32}, "y": {"field": "ly", "type": "quantitative"}, "strokeDash": {"field": "s", "type": "nominal", "legend": null}}},
 {"data": {"name": "gtl"}, "mark": {"type": "point", "size": 90, "filled": true, "stroke": "black", "strokeWidth": 1.2},
  "encoding": {"x": {"datum": -0.084}, "y": {"field": "ly", "type": "quantitative"}, "shape": {"field": "s", "type": "nominal", "legend": null}, "fill": {"field": "s", "type": "nominal", "legend": null}}},
 {"data": {"name": "gtl"}, "mark": {"type": "text", "align": "left", "baseline": "middle", "fontSize": 16},
  "encoding": {"x": {"datum": 0.633}, "y": {"field": "ly", "type": "quantitative"}, "text": {"field": "s"}}},
 {"data": {"values": [{"t":"*","x":5,"y":442},{"t":"*","x":6,"y":545}]}, "mark": {"type": "text", "fontSize": 18, "dy": 4.5},
  "encoding": {"x": {"field": "x", "type": "quantitative"}, "y": {"field": "y", "type": "quantitative"}, "text": {"field": "t"}}},
 {"data": {"values": [{"t":"Days","x":6.44,"y":-59}]}, "mark": {"type": "text", "fontSize": 16, "align": "left", "baseline": "middle"},
  "encoding": {"x": {"field": "x", "type": "quantitative"}, "y": {"field": "y", "type": "quantitative"}, "text": {"field": "t"}}},
 {"data": {"values": [{"t":"G","x":-4.74,"y":786}]}, "mark": {"type": "text", "fontSize": 27, "align": "left", "baseline": "alphabetic"},
  "encoding": {"x": {"field": "x", "type": "quantitative"}, "y": {"field": "y", "type": "quantitative"}, "text": {"field": "t"}}},
 {"data": {"values": [{"x":-3.895,"x2":-2.979,"y":345.5,"y2":345.5},{"x":-3.895,"x2":-3.895,"y":345.5,"y2":227},{"x":-3.895,"x2":-3.895,"y":-545,"y2":-627},{"x":-3.895,"x2":-2.979,"y":-627,"y2":-627}]},
  "mark": {"type": "rule", "strokeWidth": 1.3},
  "encoding": {"x": {"field": "x", "type": "quantitative"}, "x2": {"field": "x2"}, "y": {"field": "y", "type": "quantitative"}, "y2": {"field": "y2"}}},
 {"data": {"values": [{"t":"231-BR-SOCS-1 #2","x":-3.895,"y":-168}]}, "mark": {"type": "text", "fontSize": 17, "angle": 270, "align": "center", "baseline": "middle"},
  "encoding": {"x": {"field": "x", "type": "quantitative"}, "y": {"field": "y", "type": "quantitative"}, "text": {"field": "t"}}}
]},
{"layer": [
 {"data": {"name": "gb"}, "mark": {"type": "line", "strokeWidth": 1.2},
  "encoding": {
   "x": {"field": "d", "type": "quantitative", "scale": {"domain": [-1, 6], "range": [475, 666], "zero": false, "nice": false}, "axis": {"orient": "bottom", "offset": -24, "values": [0, 1, 2, 3, 4, 5, 6], "format": "d", "labelFontSize": 16, "title": null}},
   "y": {"field": "v", "type": "quantitative", "scale": {"domain": [0, 800], "range": [1026, 855], "zero": false, "nice": false}, "axis": {"orient": "left", "offset": -475, "values": [0, 200, 400, 600, 800], "format": "d", "labelFontSize": 13, "title": "Cell Viability (% )", "titleFontSize": 16, "titlePadding": 4}},
   "strokeDash": {"field": "s", "type": "nominal", "scale": {"domain": ["Control", "Vector", "siCav-1"], "range": [[3, 2], [3, 2], [1, 0]]}, "legend": null}}},
 {"data": {"name": "gb"}, "mark": {"type": "rule", "strokeWidth": 1.2},
  "encoding": {"x": {"field": "d", "type": "quantitative"}, "y": {"field": "lo", "type": "quantitative"}, "y2": {"field": "hi"}}},
 {"data": {"name": "gb"}, "mark": {"type": "tick", "orient": "horizontal", "size": 9, "thickness": 1.2},
  "encoding": {"x": {"field": "d", "type": "quantitative"}, "y": {"field": "lo", "type": "quantitative"}}},
 {"data": {"name": "gb"}, "mark": {"type": "tick", "orient": "horizontal", "size": 9, "thickness": 1.2},
  "encoding": {"x": {"field": "d", "type": "quantitative"}, "y": {"field": "hi", "type": "quantitative"}}},
 {"data": {"name": "gb"}, "mark": {"type": "point", "size": 70, "filled": true, "stroke": "black", "strokeWidth": 1.2},
  "encoding": {"x": {"field": "d", "type": "quantitative"}, "y": {"field": "v", "type": "quantitative"},
   "shape": {"field": "s", "type": "nominal", "scale": {"domain": ["Control", "Vector", "siCav-1"], "range": ["square", "circle", "triangle-down"]}, "legend": null},
   "fill": {"field": "s", "type": "nominal", "scale": {"domain": ["Control", "Vector", "siCav-1"], "range": ["white", "white", "black"]}, "legend": null}}},
 {"data": {"name": "gbl"}, "mark": {"type": "rule", "strokeWidth": 1.2},
  "encoding": {"x": {"datum": -0.56}, "x2": {"datum": 0.32}, "y": {"field": "ly", "type": "quantitative"}, "strokeDash": {"field": "s", "type": "nominal", "legend": null}}},
 {"data": {"name": "gbl"}, "mark": {"type": "point", "size": 90, "filled": true, "stroke": "black", "strokeWidth": 1.2},
  "encoding": {"x": {"datum": -0.084}, "y": {"field": "ly", "type": "quantitative"}, "shape": {"field": "s", "type": "nominal", "legend": null}, "fill": {"field": "s", "type": "nominal", "legend": null}}},
 {"data": {"name": "gbl"}, "mark": {"type": "text", "align": "left", "baseline": "middle", "fontSize": 16},
  "encoding": {"x": {"datum": 0.58}, "y": {"field": "ly", "type": "quantitative"}, "text": {"field": "s"}}},
 {"data": {"values": [{"t":"*","x":5,"y":394},{"t":"**","x":6,"y":501}]}, "mark": {"type": "text", "fontSize": 18, "dy": 4.5},
  "encoding": {"x": {"field": "x", "type": "quantitative"}, "y": {"field": "y", "type": "quantitative"}, "text": {"field": "t"}}},
 {"data": {"values": [{"t":"Days","x":6.44,"y":-61}]}, "mark": {"type": "text", "fontSize": 16, "align": "left", "baseline": "middle"},
  "encoding": {"x": {"field": "x", "type": "quantitative"}, "y": {"field": "y", "type": "quantitative"}, "text": {"field": "t"}}}
]}
]
}
